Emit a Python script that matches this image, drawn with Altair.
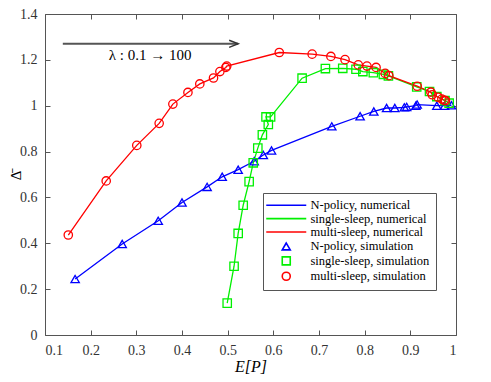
import altair as alt
import pandas as pd

# N-policy
n_x = [0.166, 0.269, 0.348, 0.400, 0.455, 0.488, 0.523, 0.558, 0.578, 0.596,
       0.728, 0.790, 0.820, 0.848, 0.866, 0.887, 0.892, 0.912, 0.915, 0.958, 0.975, 0.990]
n_y = [0.244, 0.397, 0.498, 0.578, 0.646, 0.690, 0.721, 0.758, 0.785, 0.805,
       0.910, 0.954, 0.975, 0.990, 0.990, 0.993, 0.995, 1.000, 1.005, 1.000, 1.000, 1.002]
# single-sleep
s_x = [0.499, 0.514, 0.523, 0.534, 0.547, 0.556, 0.566, 0.576, 0.589, 0.584, 0.594,
       0.663, 0.714, 0.752, 0.781, 0.796, 0.819, 0.841, 0.852, 0.914, 0.942, 0.958, 0.976, 0.985]
s_y = [0.139, 0.300, 0.443, 0.566, 0.669, 0.751, 0.815, 0.873, 0.918, 0.951, 0.951,
       1.120, 1.162, 1.163, 1.159, 1.149, 1.144, 1.137, 1.130, 1.082, 1.062, 1.040, 1.022, 1.011]
# multi-sleep
m_x = [0.151, 0.234, 0.301, 0.350, 0.380, 0.413, 0.439, 0.469, 0.483, 0.496, 0.498,
       0.613, 0.685, 0.726, 0.757, 0.786, 0.805, 0.825, 0.845, 0.853, 0.915, 0.945,
       0.948, 0.961, 0.969, 0.974, 0.977]
m_y = [0.436, 0.672, 0.827, 0.923, 1.007, 1.058, 1.095, 1.121, 1.149, 1.167, 1.173,
       1.232, 1.225, 1.215, 1.201, 1.178, 1.173, 1.167, 1.141, 1.131, 1.085, 1.059,
       1.048, 1.037, 1.029, 1.024, 1.022]

names_num = ["N-policy, numerical", "single-sleep, numerical", "multi-sleep, numerical"]
names_sim = ["N-policy, simulation", "single-sleep, simulation", "multi-sleep, simulation"]
colors = ["#0000ff", "#00f000", "#ff0000"]
x_ticks = [0.1, 0.2, 0.3, 0.4, 0.5, 0.6, 0.7, 0.8, 0.9, 1.0]
y_ticks = [0, 0.2, 0.4, 0.6, 0.8, 1.0, 1.2, 1.4]

arrow_x = [0.139, 0.523]
arrow_y = [1.270]
arrow_text = "λ : 0.1 → 100"
arrow_text_pos = [0.33, 1.222]

FONT = "'Times New Roman', 'Liberation Serif', serif"

rows = []
for i, (xs, ys) in enumerate([(n_x, n_y), (s_x, s_y), (m_x, m_y)]):
    for k, (a, b) in enumerate(zip(xs, ys)):
        rows.append({"x": a, "y": b, "k": k, "num": names_num[i], "sim": names_sim[i]})
df = pd.DataFrame(rows)

domain = names_num + names_sim
crange = colors + colors
line_path = "M-5,0H5"
shape_range = [line_path] * 3 + ["triangle-up", "square", "circle"]

xscale = alt.Scale(domain=[0.1, 1.0], nice=False)
yscale = alt.Scale(domain=[0, 1.4], nice=False)

legend = alt.Legend(
    title=None, orient="none", legendX=218, legendY=179,
    strokeColor="#555", fillColor="white", padding=6,
    labelFont=FONT, labelFontSize=12.5, labelColor="black",
    symbolStrokeWidth=1.6, symbolSize=64, symbolOffset=11, labelOffset=18,
    rowPadding=0.4,
)

bottom_axis = alt.Axis(orient="bottom", values=x_ticks, offset=-5, tickSize=5,
                       labelPadding=8, labelExpr="format(datum.value, '~g')",
                       labelFont=FONT, labelFontSize=14, labelColor="#333",
                       title="E[P]", titleFont=FONT, titleFontStyle="italic",
                       titleFontSize=16, titleFontWeight="normal", titlePadding=1, titleColor="black")
left_axis = alt.Axis(orient="left", values=y_ticks, offset=-5, tickSize=5,
                     labelPadding=8, labelExpr="format(datum.value, '~g')",
                     labelFont=FONT, labelFontSize=14, labelColor="#333",
                     title="Δ\u0304", titleFont=FONT, titleFontSize=15, titleBaseline="top",
                     titleAlign="center", titleAngle=270, titleX=-42, titleY=161,
                     titleFontWeight="normal", titleColor="black")
top_axis = alt.Axis(orient="top", values=x_ticks, offset=-5, tickSize=5, labels=False, title=None)
right_axis = alt.Axis(orient="right", values=y_ticks, offset=-5, tickSize=5, labels=False, title=None)

lines = alt.Chart(df).mark_line(strokeWidth=1.3).encode(
    x=alt.X("x:Q", scale=xscale, axis=bottom_axis),
    y=alt.Y("y:Q", scale=yscale, axis=left_axis),
    color=alt.Color("num:N", scale=alt.Scale(domain=domain, range=crange), legend=legend),
    order="k:Q",
)

points = alt.Chart(df).mark_point(filled=False, strokeWidth=1.3, size=70, opacity=1).encode(
    x=alt.X("x:Q", scale=xscale, axis=None),
    y=alt.Y("y:Q", scale=yscale, axis=None),
    color=alt.Color("sim:N", scale=alt.Scale(domain=domain, range=crange), legend=legend),
    shape=alt.Shape("sim:N", scale=alt.Scale(domain=domain, range=shape_range), legend=legend),
)

adf = pd.DataFrame({"x": [arrow_x[0]], "x2": [arrow_x[1]], "y": arrow_y})
arrow = alt.Chart(adf).mark_rule(color="#555", strokeWidth=2).encode(
    x=alt.X("x:Q", scale=xscale, axis=top_axis),
    x2="x2:Q",
    y=alt.Y("y:Q", scale=yscale, axis=right_axis),
)
hdf = pd.DataFrame({"x": [arrow_x[1]], "y": arrow_y})
head = alt.Chart(hdf).mark_point(shape="M-2,-0.8L0,0L-2,0.8", size=81, filled=False,
                                 color="#333", strokeWidth=1.5, opacity=1).encode(
    x=alt.X("x:Q", scale=xscale, axis=None),
    y=alt.Y("y:Q", scale=yscale, axis=None),
)
tdf = pd.DataFrame({"x": [arrow_text_pos[0]], "y": [arrow_text_pos[1]], "t": [arrow_text]})
label = alt.Chart(tdf).mark_text(font=FONT, fontSize=15, color="black").encode(
    x=alt.X("x:Q", scale=xscale, axis=None),
    y=alt.Y("y:Q", scale=yscale, axis=None),
    text="t:N",
)

chart = alt.layer(lines, points, arrow, head, label).resolve_axis(
    x="independent", y="independent"
).properties(
    width=411, height=321,
    autosize=alt.AutoSizeParams(type="none"),
    padding={"left": 37, "top": 6, "right": 27, "bottom": 39},
).configure_view(stroke="#555", strokeWidth=1).configure_axis(
    grid=False, domain=False, tickColor="#555", labelFont=FONT,
    labelFontSize=14, labelColor="#333",
)

chart.save("out.html", embed_options={"renderer": "svg", "actions": False})
